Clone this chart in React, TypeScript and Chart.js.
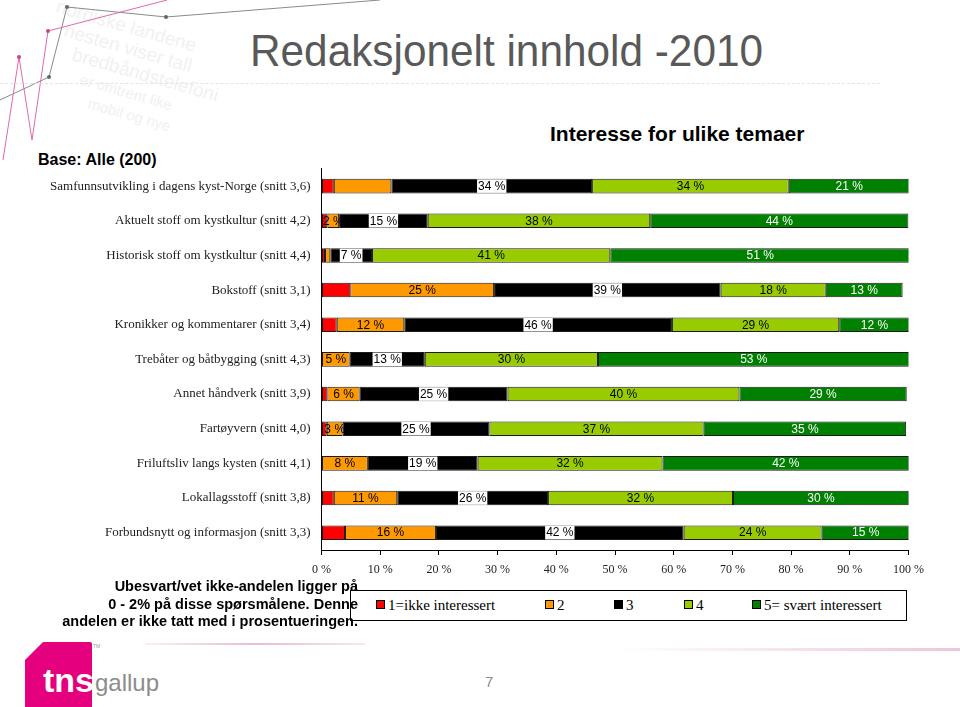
import React, { useEffect, useRef } from "react";
import { Chart, registerables } from "chart.js";

Chart.register(...registerables);

// ---------- DATA ----------
const categories = [
  "Samfunnsutvikling i dagens kyst-Norge (snitt 3,6)",
  "Aktuelt stoff om kystkultur (snitt 4,2)",
  "Historisk stoff om kystkultur (snitt 4,4)",
  "Bokstoff (snitt 3,1)",
  "Kronikker og kommentarer (snitt 3,4)",
  "Trebåter og båtbygging (snitt 4,3)",
  "Annet håndverk (snitt 3,9)",
  "Fartøyvern (snitt 4,0)",
  "Friluftsliv langs kysten (snitt 4,1)",
  "Lokallagsstoff (snitt 3,8)",
  "Forbundsnytt og informasjon (snitt 3,3)",
];

const seriesNames = ["1=ikke interessert", "2", "3", "4", "5= svært interessert"];

const ikkeInteressert = [2.1, 1, 0.6, 4.9, 2.6, 0, 1, 0.9, 0, 2.1, 4];
const score2 = [9.8, 2, 0.9, 24.5, 11.5, 4.8, 5.5, 2.7, 7.9, 10.8, 15.5];
const score3 = [34.2, 15.1, 7.1, 38.6, 45.6, 12.8, 25.2, 25, 18.7, 25.7, 42.2];
const score4 = [33.5, 37.9, 40.6, 17.9, 28.5, 29.5, 39.5, 36.5, 31.5, 31.5, 23.5];
const sværtInteressert = [20.6, 44, 51.1, 13.1, 12, 53.1, 28.5, 34.5, 42, 30, 15];

// which category rows carry no value label, per series
const hiddenLabelRows = [
  [0, 1, 2, 3, 4, 5, 6, 7, 8, 9, 10],
  [0, 2],
  [],
  [],
  [],
];

const xTicks = [0, 10, 20, 30, 40, 50, 60, 70, 80, 90, 100];

const noteLines = [
  "Ubesvart/vet ikke-andelen ligger på",
  "0 - 2% på disse spørsmålene. Denne",
  "andelen er ikke tatt med i prosentueringen.",
];

// ---------- STYLE ----------
const colors = ["#ff0000", "#ff9900", "#000000", "#99cc00", "#008000"];
const labelColors = ["#000", "#000", "#000", "#000", "#fff"];
const legendX = [376, 545, 614, 684, 752];

const valueLabelPlugin = {
  id: "valueLabels",
  afterDatasetsDraw(chart: any) {
    const ctx = chart.ctx;
    ctx.save();
    ctx.font = '12px "Liberation Sans", Arial, sans-serif';
    ctx.textAlign = "center";
    ctx.textBaseline = "middle";
    chart.data.datasets.forEach((ds: any, di: number) => {
      const meta = chart.getDatasetMeta(di);
      meta.data.forEach((el: any, i: number) => {
        const v = ds.data[i];
        if (!v || hiddenLabelRows[di].includes(i)) return;
        const text = Math.round(v) + " %";
        const cx = (el.x + el.base) / 2;
        const cy = el.y;
        const w = ctx.measureText(text).width;
        if (di === 2) {
          ctx.fillStyle = "#fff";
          ctx.fillRect(cx - w / 2 - 1, cy - el.height / 2 + 0.5, w + 2, el.height - 1);
        }
        ctx.fillStyle = labelColors[di];
        ctx.fillText(text, cx, cy + 0.5);
      });
    });
    ctx.restore();
  },
};

function ChartCanvas() {
  const ref = useRef<HTMLCanvasElement>(null);
  useEffect(() => {
    const seriesData = [ikkeInteressert, score2, score3, score4, sværtInteressert];
    const chart = new Chart(ref.current as HTMLCanvasElement, {
      type: "bar",
      data: {
        labels: categories,
        datasets: seriesData.map((d, i) => ({
          label: seriesNames[i],
          data: d,
          backgroundColor: colors[i],
          borderColor: "#1a1a1a",
          borderWidth: 1,
          borderSkipped: false,
          categoryPercentage: 1,
          barPercentage: 0.42,
        })),
      },
      options: {
        indexAxis: "y",
        responsive: false,
        animation: false,
        layout: { padding: { top: 13, right: 51.5, left: 0, bottom: 0 } },
        plugins: {
          legend: { display: false },
          tooltip: { enabled: false },
          title: { display: false },
        },
        scales: {
          x: {
            stacked: true,
            min: 0,
            max: 100,
            afterBuildTicks: (s: any) => {
              s.ticks = xTicks.map((v) => ({ value: v }));
            },
            afterFit: (s: any) => {
              s.height = 40;
            },
            ticks: {
              callback: (v: any) => v + " %",
              font: { family: '"Liberation Serif", "Times New Roman", serif', size: 12 },
              color: "#222",
              padding: 8,
              maxRotation: 0,
            },
            grid: {
              drawOnChartArea: false,
              drawTicks: true,
              tickLength: 5,
              color: "#000",
            },
            border: { display: true, color: "#000", width: 1 },
          },
          y: {
            stacked: true,
            afterFit: (s: any) => {
              s.width = 321.5;
            },
            ticks: {
              font: { family: '"Liberation Serif", "Times New Roman", serif', size: 13 },
              color: "#222",
              padding: 11,
            },
            grid: { display: false, drawTicks: false },
            border: { display: true, color: "#000", width: 1 },
          },
        },
      },
      plugins: [valueLabelPlugin],
    } as any);
    return () => chart.destroy();
  }, []);
  return (
    <canvas
      ref={ref}
      width={960}
      height={440}
      style={{ position: "absolute", left: 0, top: 150, width: 960, height: 440 }}
    />
  );
}

function Decoration() {
  const faint = ["nordiske landene", "nesten viser tall", "bredbåndstelefoni", "er omtrent like", "mobil og nye"];
  return (
    <svg width={400} height={170} style={{ position: "absolute", left: 0, top: 0 }}>
      {faint.map((t, i) => (
        <text
          key={i}
          x={55 + i * 8}
          y={12 + i * 24}
          transform={`rotate(16 ${55 + i * 8} ${12 + i * 24})`}
          fontFamily="Liberation Sans, Arial, sans-serif"
          fontSize={i < 3 ? 19 : 15}
          fill="#f1f1f1"
        >
          {t}
        </text>
      ))}
      <polyline points="0,100 49,77 67,7 166,17 380,0" fill="none" stroke="#8a8a8a" strokeWidth={1} />
      <polyline points="3,160 19,57 32,140 48,31 167,0" fill="none" stroke="#e06aa8" strokeWidth={1} />
      {[
        [49, 77],
        [67, 7],
        [166, 17],
      ].map(([x, y], i) => (
        <circle key={i} cx={x} cy={y} r={2} fill="#666" />
      ))}
      {[
        [19, 57],
        [48, 31],
      ].map(([x, y], i) => (
        <circle key={i} cx={x} cy={y} r={2} fill="#d04090" />
      ))}
    </svg>
  );
}

export default function App() {
  return (
    <div
      style={{
        position: "fixed",
        left: 0,
        top: 0,
        width: 960,
        height: 707,
        background: "#fff",
        overflow: "hidden",
        fontFamily: '"Liberation Sans", Arial, sans-serif',
      }}
    >
      <Decoration />
      <div
        style={{
          position: "absolute",
          left: 0,
          top: 83,
          width: 880,
          height: 0,
          borderTop: "1px dashed #e4e4e4",
        }}
      />
      <div
        style={{
          position: "absolute",
          left: 250,
          top: 26,
          fontSize: 44,
          color: "#595959",
          whiteSpace: "nowrap",
          transform: "scaleX(0.962)",
          transformOrigin: "left top",
          lineHeight: "50px",
        }}
      >
        Redaksjonelt innhold -2010
      </div>
      <div
        style={{
          position: "absolute",
          left: 550,
          top: 121,
          fontSize: 21,
          fontWeight: "bold",
          color: "#000",
          whiteSpace: "nowrap",
          lineHeight: "26px",
        }}
      >
        Interesse for ulike temaer
      </div>
      <div
        style={{
          position: "absolute",
          left: 38,
          top: 150,
          fontSize: 16,
          fontWeight: "bold",
          color: "#000",
          whiteSpace: "nowrap",
          lineHeight: "20px",
        }}
      >
        Base: Alle (200)
      </div>
      <ChartCanvas />
      <div
        style={{
          position: "absolute",
          left: 350,
          top: 590,
          width: 557,
          height: 31,
          boxSizing: "border-box",
          border: "1px solid #000",
          background: "#fff",
        }}
      />
      {seriesNames.map((n, i) => (
        <React.Fragment key={n}>
          <div
            style={{
              position: "absolute",
              left: legendX[i],
              top: 600,
              width: 9,
              height: 9,
              boxSizing: "border-box",
              border: "1px solid #000",
              background: colors[i],
            }}
          />
          <div
            style={{
              position: "absolute",
              left: legendX[i] + 12,
              top: 596,
              fontFamily: '"Liberation Serif", "Times New Roman", serif',
              fontSize: 15,
              lineHeight: "18px",
              whiteSpace: "nowrap",
              color: "#000",
            }}
          >
            {n}
          </div>
        </React.Fragment>
      ))}
      <div
        style={{
          position: "absolute",
          right: 960 - 358,
          top: 578,
          textAlign: "right",
          fontSize: 14.5,
          fontWeight: "bold",
          lineHeight: "17.5px",
          color: "#000",
          whiteSpace: "nowrap",
        }}
      >
        {noteLines.map((l) => (
          <div key={l}>{l}</div>
        ))}
      </div>
      <div
        style={{
          position: "absolute",
          left: 145,
          top: 643,
          width: 220,
          height: 2,
          background: "linear-gradient(to right, rgba(230,170,205,0.2), #e8bcd6, rgba(230,170,205,0.3))",
        }}
      />
      <div
        style={{
          position: "absolute",
          left: 620,
          top: 648,
          width: 340,
          height: 3,
          background: "linear-gradient(to right, rgba(230,170,205,0), #ecc6dc)",
        }}
      />
      <svg width={150} height={70} style={{ position: "absolute", left: 22, top: 640 }}>
        <path d="M21,2 L68,2 Q70,2 70,4 L70,70 L3,70 L3,20 Z" fill="#e5007d" />
        <text x={21} y={52} fontFamily="Liberation Sans, Arial, sans-serif" fontWeight="bold" fontSize={34} fill="#fff">
          tns
        </text>
        <text x={73} y={51} fontFamily="Liberation Sans Narrow, Liberation Sans, Arial, sans-serif" fontSize={24} fill="#8c8c8c">
          gallup
        </text>
        <text x={71} y={8} fontFamily="Liberation Sans, Arial, sans-serif" fontSize={5} fill="#999">
          TM
        </text>
      </svg>
      <div
        style={{
          position: "absolute",
          left: 485,
          top: 673,
          fontSize: 15,
          color: "#8c8c8c",
        }}
      >
        7
      </div>
    </div>
  );
}
